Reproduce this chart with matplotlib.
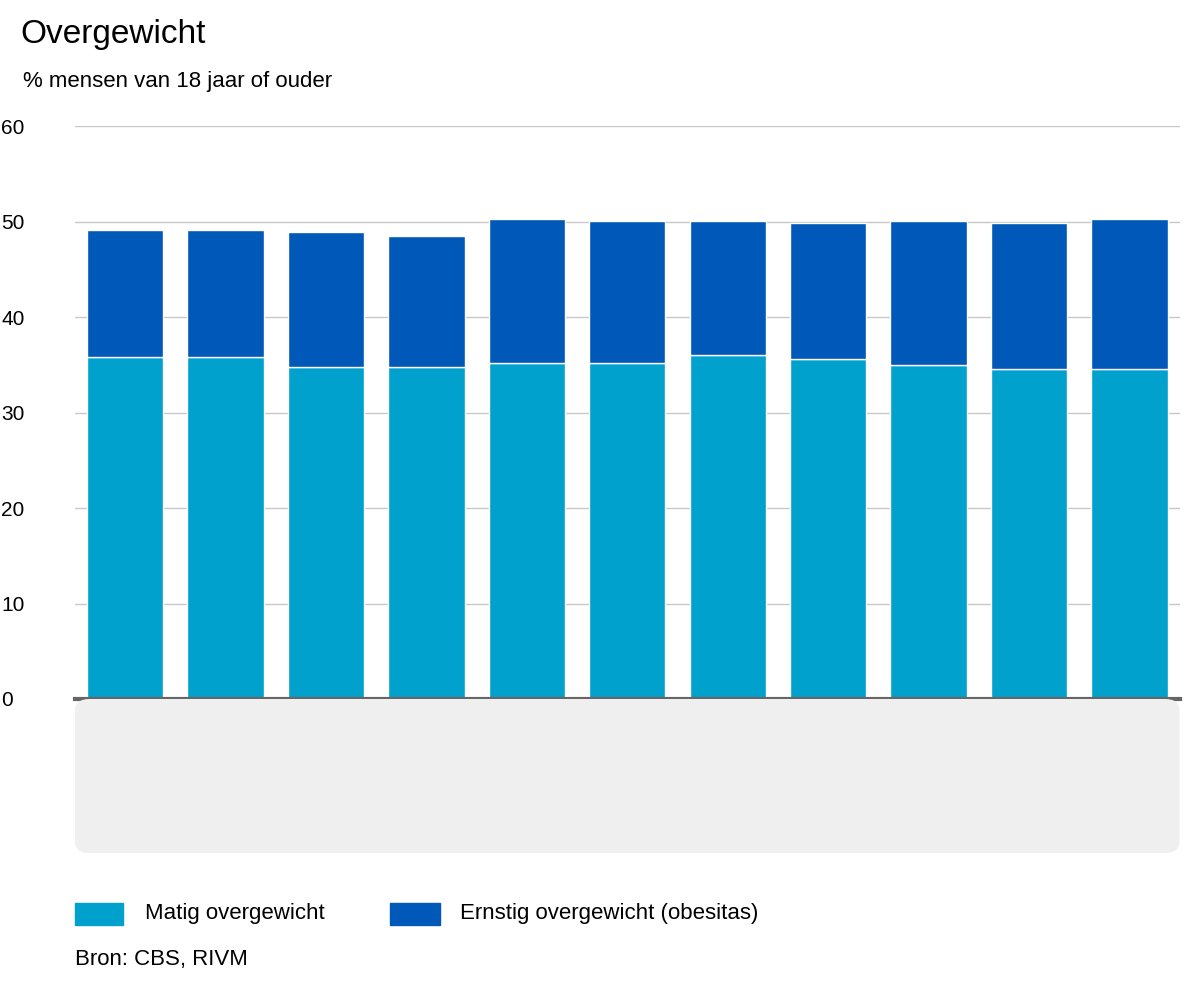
import matplotlib
matplotlib.use("Agg")
import matplotlib.pyplot as plt
from matplotlib.patches import FancyBboxPatch, Rectangle
import numpy as np

years = [2014, 2015, 2016, 2017, 2018, 2019, 2020, 2021, 2022, 2023, 2024]
matig = [35.8, 35.8, 34.8, 34.8, 35.2, 35.2, 36.0, 35.6, 35.0, 34.6, 34.6]
totaal = [49.1, 49.1, 48.9, 48.5, 50.3, 50.1, 50.1, 49.8, 50.1, 49.8, 50.3]
ernstig = [t - m for t, m in zip(totaal, matig)]
tick_years = [2014, 2016, 2018, 2020, 2022, 2024]
c_matig = "#00a1cd"
c_ernstig = "#0058b8"

plt.rcParams['font.family'] = ['Liberation Sans', 'DejaVu Sans']
fig = plt.figure(figsize=(12, 10), dpi=100)

# gray panel
fig.patches.append(FancyBboxPatch((0.0625, 0.147), 0.9205, 0.154,
    boxstyle="round,pad=0,rounding_size=0.012", transform=fig.transFigure,
    facecolor="#efefef", edgecolor="none", zorder=0))

ax = fig.add_axes([0.0625, 0.301, 0.9205, 0.573])
x = np.arange(len(years))
ax.bar(x, matig, width=0.76, color=c_matig, edgecolor="white", linewidth=1, zorder=3)
ax.bar(x, ernstig, bottom=matig, width=0.76, color=c_ernstig, edgecolor="white", linewidth=1, zorder=3)
ax.set_xlim(-0.5, 10.5)
ax.set_ylim(0, 60)
ax.set_yticks(range(0, 61, 10))
ax.grid(axis='y', color="#c8c8c8", linewidth=1, zorder=0)
for s in ["top", "right", "left"]:
    ax.spines[s].set_visible(False)
ax.spines["bottom"].set_color("#666666")
ax.spines["bottom"].set_linewidth(3)
ax.spines["bottom"].set_zorder(5)
ax.tick_params(axis='y', length=0, labelsize=15, pad=0)
for lab in ax.get_yticklabels():
    lab.set_horizontalalignment('left')
ax.yaxis.set_tick_params(pad=53)
ax.set_xticks([years.index(y) for y in tick_years])
ax.set_xticklabels([str(y) for y in tick_years], fontsize=15)
ax.tick_params(axis='x', length=0, pad=18)
ax.set_facecolor("none")

fig.text(0.017, 0.965, "Overgewicht", fontsize=24, va='center')
fig.text(0.019, 0.918, "% mensen van 18 jaar of ouder", fontsize=16, va='center')

fig.patches.append(Rectangle((0.0625, 0.075), 0.04, 0.022, transform=fig.transFigure, color=c_matig))
fig.text(0.121, 0.086, "Matig overgewicht", fontsize=16, va='center')
fig.patches.append(Rectangle((0.325, 0.075), 0.042, 0.022, transform=fig.transFigure, color=c_ernstig))
fig.text(0.383, 0.086, "Ernstig overgewicht (obesitas)", fontsize=16, va='center')
fig.text(0.0625, 0.040, "Bron: CBS, RIVM", fontsize=16, va='center')

fig.savefig("out.png", dpi=100, facecolor="white")
